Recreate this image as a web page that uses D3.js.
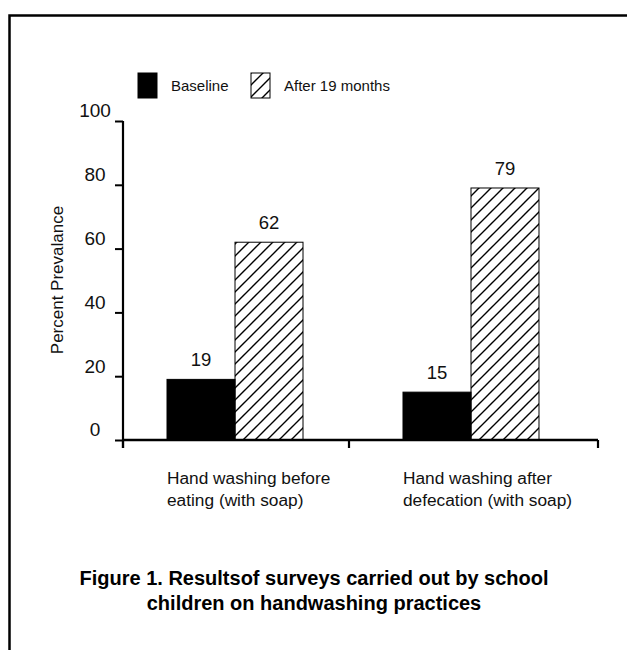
<!DOCTYPE html>
<html lang="en">
<head>
  <meta charset="UTF-8" />
  <title>Handwashing practices</title>
  <script src="https://d3js.org/d3.v7.min.js"></script>
  <style>
    body { margin: 0; background: #fff; }
    text { font-family: "Liberation Sans", Arial, sans-serif; fill: #111; }
    .title { font-weight: bold; font-size: 20px; fill: #000; }
  </style>
</head>
<body>
  <div id="chart"></div>
  <script>
    // Chart data
    const categories = ["before eating", "after defecation"];
    const categoryLines = [
      ["Hand washing before", "eating (with soap)"],
      ["Hand washing after", "defecation (with soap)"]
    ];
    const seriesNames = ["Baseline", "After 19 months"];
    const baselineValues = [19, 15];
    const afterValues = [62, 79];
    const yTicks = [0, 20, 40, 60, 80, 100];
    const titleLines = [
      "Figure 1. Resultsof surveys carried out by school",
      "children on handwashing practices"
    ];

    const width = 627, height = 650;
    const margin = { top: 121, right: 29, bottom: 210, left: 123 };
    const plotBottom = height - margin.bottom; // 440

    const svg = d3.select("#chart").append("svg")
      .attr("width", width)
      .attr("height", height);

    const defs = svg.append("defs");
    defs.append("pattern")
      .attr("id", "hatch")
      .attr("patternUnits", "userSpaceOnUse")
      .attr("width", 12)
      .attr("height", 12)
      .append("path")
      .attr("d", "M-3,3 l6,-6 M0,12 l12,-12 M9,15 l6,-6")
      .attr("stroke", "#000")
      .attr("stroke-width", 1.4);

    // frame (top and left only)
    svg.append("path")
      .attr("d", `M9.5,${height} V15.5 H${width}`)
      .attr("fill", "none")
      .attr("stroke", "#000")
      .attr("stroke-width", 2.5);

    const y = d3.scaleLinear()
      .domain([0, 100])
      .range([plotBottom, margin.top]);

    // groups placed so the bars sit where the original puts them
    const x0 = d3.scaleBand()
      .domain(categories)
      .range([117, 589])
      .paddingInner(0.4237)
      .paddingOuter(0.2119);

    const x1 = d3.scaleBand()
      .domain(seriesNames)
      .range([0, x0.bandwidth()]);

    const fills = { "Baseline": "#000", "After 19 months": "url(#hatch)" };

    // bars
    const rows = categories.map((c, i) => ({
      cat: c,
      values: [
        { series: seriesNames[0], value: baselineValues[i] },
        { series: seriesNames[1], value: afterValues[i] }
      ]
    }));

    const groups = svg.selectAll(".group")
      .data(rows)
      .enter().append("g")
      .attr("transform", d => `translate(${x0(d.cat)},0)`);

    groups.selectAll("rect")
      .data(d => d.values)
      .enter().append("rect")
      .attr("x", d => x1(d.series))
      .attr("y", d => y(d.value))
      .attr("width", x1.bandwidth())
      .attr("height", d => y(0) - y(d.value))
      .attr("fill", d => fills[d.series])
      .attr("stroke", "#000")
      .attr("stroke-width", 1);

    groups.selectAll(".val")
      .data(d => d.values)
      .enter().append("text")
      .attr("class", "val")
      .attr("x", d => x1(d.series) + x1.bandwidth() / 2)
      .attr("y", d => y(d.value) - 13)
      .attr("text-anchor", "middle")
      .attr("font-size", "18.5px")
      .text(d => d.value);

    // y axis
    const yAxis = svg.append("g")
      .attr("transform", `translate(${margin.left},0)`)
      .call(d3.axisLeft(y).tickValues(yTicks).tickSize(8).tickFormat(d3.format("d")));
    yAxis.select(".domain").remove();
    yAxis.selectAll("line").attr("stroke", "#000").attr("stroke-width", 2);
    yAxis.selectAll("text")
      .attr("font-size", "19px")
      .attr("x", -28)
      .attr("dy", "-0.22em")
      .attr("text-anchor", "middle")
      .attr("fill", "#111");
    svg.append("line")
      .attr("x1", margin.left).attr("x2", margin.left)
      .attr("y1", y(100)).attr("y2", plotBottom + 8)
      .attr("stroke", "#000").attr("stroke-width", 2.2);

    // x axis with ticks at the group boundaries
    const xEnd = width - margin.right;
    const gap = x0.step() - x0.bandwidth();
    const xTickPos = [margin.left, x0(categories[1]) - gap / 2 - 4, xEnd];
    svg.append("line")
      .attr("x1", margin.left).attr("x2", xEnd)
      .attr("y1", plotBottom).attr("y2", plotBottom)
      .attr("stroke", "#000").attr("stroke-width", 2.5);
    svg.selectAll(".xtick")
      .data(xTickPos)
      .enter().append("line")
      .attr("x1", d => d).attr("x2", d => d)
      .attr("y1", plotBottom).attr("y2", plotBottom + 8)
      .attr("stroke", "#000").attr("stroke-width", 2.2);

    // category labels
    categories.forEach((c, i) => {
      const t = svg.append("text")
        .attr("x", x0(c))
        .attr("y", 484)
        .attr("font-size", "17.3px");
      categoryLines[i].forEach((line, j) => {
        t.append("tspan")
          .attr("x", x0(c))
          .attr("dy", j === 0 ? 0 : 22)
          .text(line);
      });
    });

    // y axis title
    svg.append("text")
      .attr("transform", "translate(63,280) rotate(-90)")
      .attr("text-anchor", "middle")
      .attr("font-size", "17px")
      .text("Percent Prevalance");

    // legend
    const legendX = [138, 251];
    const legend = svg.selectAll(".legend")
      .data(seriesNames)
      .enter().append("g")
      .attr("transform", (d, i) => `translate(${legendX[i]},73)`);
    legend.append("rect")
      .attr("width", 19)
      .attr("height", 25)
      .attr("fill", d => fills[d])
      .attr("stroke", "#000")
      .attr("stroke-width", 1);
    legend.append("text")
      .attr("x", 33)
      .attr("y", 13)
      .attr("dy", "0.35em")
      .attr("font-size", "15px")
      .text(d => d);

    // figure caption
    svg.selectAll(".title")
      .data(titleLines)
      .enter().append("text")
      .attr("class", "title")
      .attr("x", 314)
      .attr("y", (d, i) => 585 + i * 25)
      .attr("text-anchor", "middle")
      .text(d => d);
  </script>
</body>
</html>
